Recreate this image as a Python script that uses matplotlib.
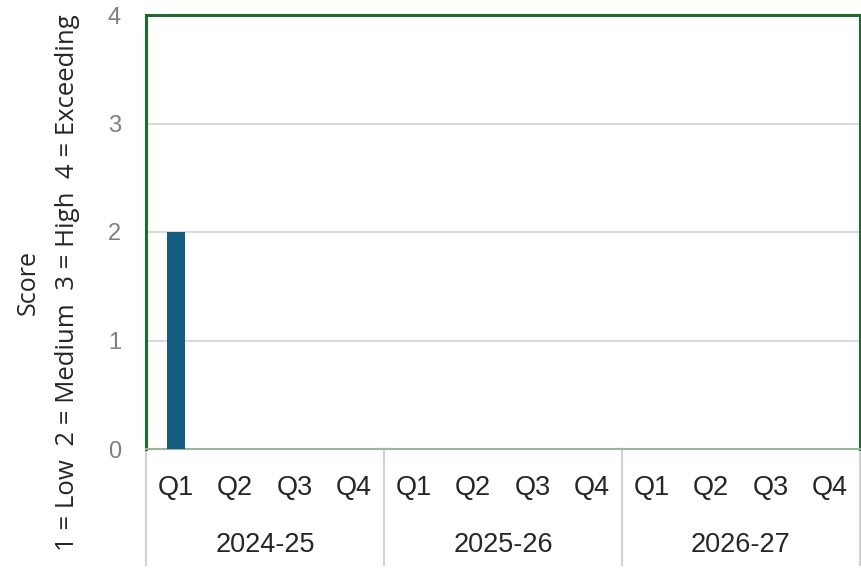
import matplotlib.pyplot as plt
import matplotlib.transforms as mtransforms
import numpy as np

# 季度评分数据
years = ['2024-25', '2025-26', '2026-27']
quarters = ['Q1', 'Q2', 'Q3', 'Q4']
scores = [2, np.nan, np.nan, np.nan,
          np.nan, np.nan, np.nan, np.nan,
          np.nan, np.nan, np.nan, np.nan]
y_ticks = [0, 1, 2, 3, 4]

LABEL_FONT = ['Liberation Sans', 'DejaVu Sans']
TITLE_FONT = ['Open Sans', 'DejaVu Sans']

fig = plt.figure(figsize=(8.62, 5.73), dpi=100)
ax = fig.add_axes([146 / 862, 124 / 573, 714 / 862, 434 / 573])

x = np.arange(len(scores))
ax.bar(x, scores, width=0.3, color='#155C80', zorder=3)

ax.set_xlim(-0.5, len(scores) - 0.5)
ax.set_ylim(0, 4)

# 网格
ax.set_yticks(y_ticks)
ax.set_yticklabels([str(t) for t in y_ticks], fontsize=17, color='#7F7F7F',
                   family=LABEL_FONT)
ax.yaxis.grid(True, color='#D9D9D9', linewidth=1.5, zorder=0)
ax.tick_params(axis='y', length=0, pad=18)

# 季度标签
ax.set_xticks(x)
ax.set_xticklabels(quarters * len(years), fontsize=19.5, color='#262626',
                   family=LABEL_FONT)
ax.tick_params(axis='x', length=0, pad=19)

# 边框
for side in ['left', 'top', 'right']:
    ax.spines[side].set_color('#1E6B2E')
    ax.spines[side].set_linewidth(2.2)
ax.spines['bottom'].set_color('#9DB59D')
ax.spines['bottom'].set_linewidth(1.5)

# 年度分组线和标签
trans = mtransforms.blended_transform_factory(ax.transData, ax.transAxes)
n_q = len(quarters)
for i in range(len(years) + 1):
    xb = i * n_q - 0.5
    ax.plot([xb, xb], [0, -0.267], transform=trans, color='#D0D0D0',
            linewidth=1.5, clip_on=False, zorder=1)
for i, yr in enumerate(years):
    ax.text(i * n_q + (n_q - 1) / 2, -0.221, yr, transform=trans,
            ha='center', va='center', fontsize=19.5, color='#262626',
            family=LABEL_FONT)

# 纵轴标题
fig.text(28 / 862, 1 - 283 / 573, 'Score', rotation=90, ha='center',
         va='center', fontsize=18, color='#262626', family=TITLE_FONT)
fig.text(68 / 862, 1 - 283 / 573, '1 = Low  2 = Medium  3 = High  4 = Exceeding',
         rotation=90, ha='center', va='center', fontsize=18.5, color='#262626',
         family=TITLE_FONT)

fig.savefig('out.png', dpi=100, facecolor='white')
